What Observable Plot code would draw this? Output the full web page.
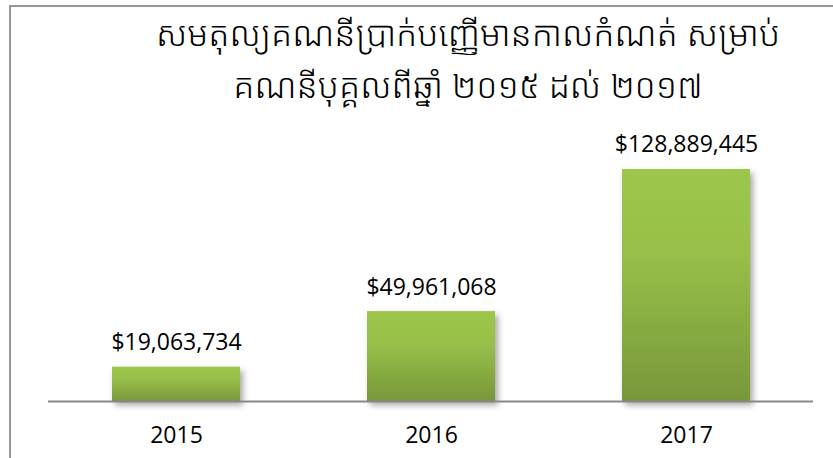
<!DOCTYPE html>
<html>
<head>
<meta charset="utf-8">
<script src="https://cdn.jsdelivr.net/npm/d3@7"></script>
<script src="https://cdn.jsdelivr.net/npm/@observablehq/plot@0.6"></script>
<style>
  html, body { margin: 0; padding: 0; background: #fff; }
  #wrap { position: relative; width: 833px; height: 458px; overflow: hidden; background: #fff; }
  #border { position: absolute; left: 9px; top: 5px; width: 1000px; height: 1000px; border: 2px solid #979797; box-sizing: border-box; }
  #title { position: absolute; left: 88px; width: 760px; top: 7px; text-align: center;
    font-family: "Khmer OS", "Khmer OS System", "Noto Sans Khmer", "Noto Serif Khmer", "Hanuman", "Battambang", "DejaVu Sans", sans-serif;
    font-size: 34.5px; font-weight: 300; line-height: 52px; color: #000; }
  #chart { position: absolute; left: 0; top: 0; }
</style>
</head>
<body>
<div id="wrap">
  <div id="border"></div>
  <div id="chart"></div>
  <div id="title">សមតុល្យគណនីប្រាក់បញ្ញើមានកាលកំណត់ សម្រាប់<br>គណនីបុគ្គលពីឆ្នាំ ២០១៥ ដល់ ២០១៧</div>
</div>
<script>
const years = ["2015", "2016", "2017"];
const balances = [19063734, 49961068, 128889445];
const valueLabels = ["$19,063,734", "$49,961,068", "$128,889,445"];

const data = years.map((y, i) => ({year: y, value: balances[i], label: valueLabels[i]}));

const plot = Plot.plot({
  width: 833,
  height: 458,
  marginLeft: 48,
  marginRight: 20,
  marginTop: 149,
  marginBottom: 57,
  style: {fontFamily: "'Open Sans', 'Liberation Sans', sans-serif", background: "transparent", color: "#000"},
  x: {domain: years, paddingInner: 0.5, paddingOuter: 0.25, label: null},
  y: {domain: [0, 140000000], axis: null},
  marks: [
    Plot.barY(data, {x: "year", y: "value", fill: "url(#barGrad)", className: "bars"}),
    Plot.ruleY([0], {stroke: "#888888", strokeWidth: 2}),
    Plot.axisX({tickSize: 0, tickPadding: 25, fontSize: 23, fill: "#000"}),
    Plot.text(data, {x: "year", y: "value", text: "label", lineAnchor: "bottom", dy: -17, fontSize: 23, fill: "#000"})
  ]
});

const svg = d3.select(plot);
const defs = svg.insert("defs", ":first-child");
const g = defs.append("linearGradient").attr("id", "barGrad").attr("x1", 0).attr("y1", 0).attr("x2", 0).attr("y2", 1);
g.append("stop").attr("offset", "0%").attr("stop-color", "#9dc64c");
g.append("stop").attr("offset", "35%").attr("stop-color", "#98c049");
g.append("stop").attr("offset", "100%").attr("stop-color", "#78973a");
const f = defs.append("filter").attr("id", "barShadow").attr("x", "-20%").attr("y", "-20%").attr("width", "150%").attr("height", "160%");
f.append("feDropShadow").attr("dx", 3).attr("dy", 4).attr("stdDeviation", 3).attr("flood-color", "#000").attr("flood-opacity", 0.35);
svg.selectAll("g.bars rect, g[aria-label='bar'] rect").attr("filter", "url(#barShadow)");

document.getElementById("chart").appendChild(plot);
</script>
</body>
</html>
